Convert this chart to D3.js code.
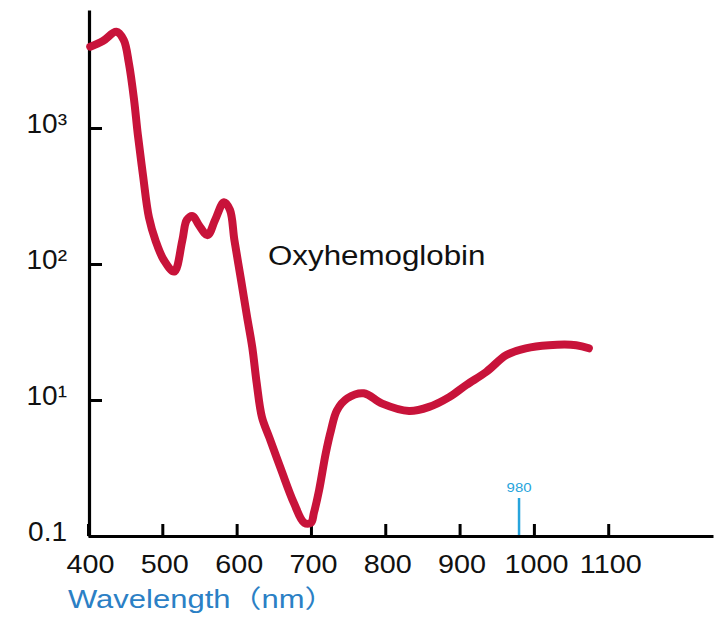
<!DOCTYPE html>
<html>
<head>
<meta charset="utf-8">
<script src="https://cdn.jsdelivr.net/npm/d3@7"></script>
<style>
  body { margin: 0; background: #fff; }
  text { font-family: "Liberation Sans", Arial, "Noto Sans CJK SC", sans-serif; }
</style>
</head>
<body>
<svg id="chart" width="715" height="617"></svg>
<script>
// wavelength (nm) and absorption
var wavelength = [403, 420, 438, 448, 455, 462, 467, 474, 482, 491, 502, 516, 527, 533, 541, 549, 561, 571, 583, 591,
  597, 606, 614, 621, 627, 634, 644, 660, 677, 691, 700, 704, 711, 720, 727, 735, 749, 771, 796, 832, 859,
  886, 909, 936, 963, 989, 1020, 1057, 1074];
var absorption = [3960, 4360, 5100, 4450, 3000, 1610, 900, 450, 220, 148, 107, 88, 150, 211, 225, 194, 163, 211, 285, 250,
  150, 76, 41, 24.5, 13.3, 7.5, 5.3, 3.06, 1.75, 1.25, 1.25, 1.48, 2.18, 4.08, 6.0, 8.4, 10.3, 11.2, 9.4, 8.3, 8.9,
  10.5, 12.9, 16.1, 21.4, 24, 25.3, 25.3, 24];

var xTicks = [400, 500, 600, 700, 800, 900, 1000, 1100];
var yTicks = [1, 10, 100, 1000];
var yTickLabels = ["0.1", "10¹", "10²", "10³"];
var marker = 980;
var seriesName = "Oxyhemoglobin";
var xTitle = "Wavelength（nm）";

var svg = d3.select("#chart");
var sx = 1.15; // the picture's text is a bit stretched sideways

// scales
var x = d3.scaleLinear().domain([400, 1241]).range([88, 713]);
var y = d3.scaleLog().domain([1, 7375]).range([536, 10]);

// Add X axis
var xAxis = svg.append("g")
  .attr("transform", "translate(0, 536)")
  .call(d3.axisBottom(x).tickValues(xTicks).tickFormat(d3.format("d"))
    .tickSize(-12).tickSizeOuter(0).tickPadding(19));
xAxis.select(".domain").attr("stroke-width", 3.2);
xAxis.selectAll(".tick line").attr("stroke-width", 3);
xAxis.selectAll(".tick text")
  .attr("font-size", 25)
  .attr("font-family", null)
  .attr("fill", "#111")
  .attr("transform", "translate(2,0) scale(" + sx + ",1)");

// Add Y axis
var yAxis = svg.append("g")
  .attr("transform", "translate(89, 0)")
  .call(d3.axisLeft(y).tickValues(yTicks).tickSize(-13).tickSizeOuter(0).tickPadding(22)
    .tickFormat(function (d, i) { return yTickLabels[i]; }));
yAxis.select(".domain").attr("stroke-width", 3.2);
yAxis.selectAll(".tick line").attr("stroke-width", 3);
yAxis.selectAll(".tick text")
  .attr("font-size", 28)
  .attr("font-family", null)
  .attr("fill", "#111")
  .attr("y", -4);

// curve
var line = d3.line()
  .x(function (d) { return x(d[0]); })
  .y(function (d) { return y(d[1]); })
  .curve(d3.curveCatmullRom.alpha(0.5));

svg.append("path")
  .datum(d3.zip(wavelength, absorption))
  .attr("d", line)
  .attr("fill", "none")
  .attr("stroke", "#c8133a")
  .attr("stroke-width", 8)
  .attr("stroke-linecap", "round")
  .attr("stroke-linejoin", "round");

// series label
svg.append("text")
  .attr("transform", "translate(268, 265) scale(1.16,1)")
  .attr("font-size", 27)
  .attr("fill", "#111")
  .text(seriesName);

// 980 marker
svg.append("line")
  .attr("x1", x(marker)).attr("x2", x(marker))
  .attr("y1", 498).attr("y2", 535)
  .attr("stroke", "#27a4dc")
  .attr("stroke-width", 2.5);
svg.append("text")
  .attr("transform", "translate(" + x(marker) + ", 492) scale(" + sx + ",1)")
  .attr("text-anchor", "middle")
  .attr("font-size", 13)
  .attr("fill", "#27a4dc")
  .text(marker);

// x axis title
svg.append("text")
  .attr("transform", "translate(68, 608) scale(1.24,1)")
  .attr("font-size", 25)
  .attr("fill", "#2b80c5")
  .text(xTitle);
</script>
</body>
</html>
